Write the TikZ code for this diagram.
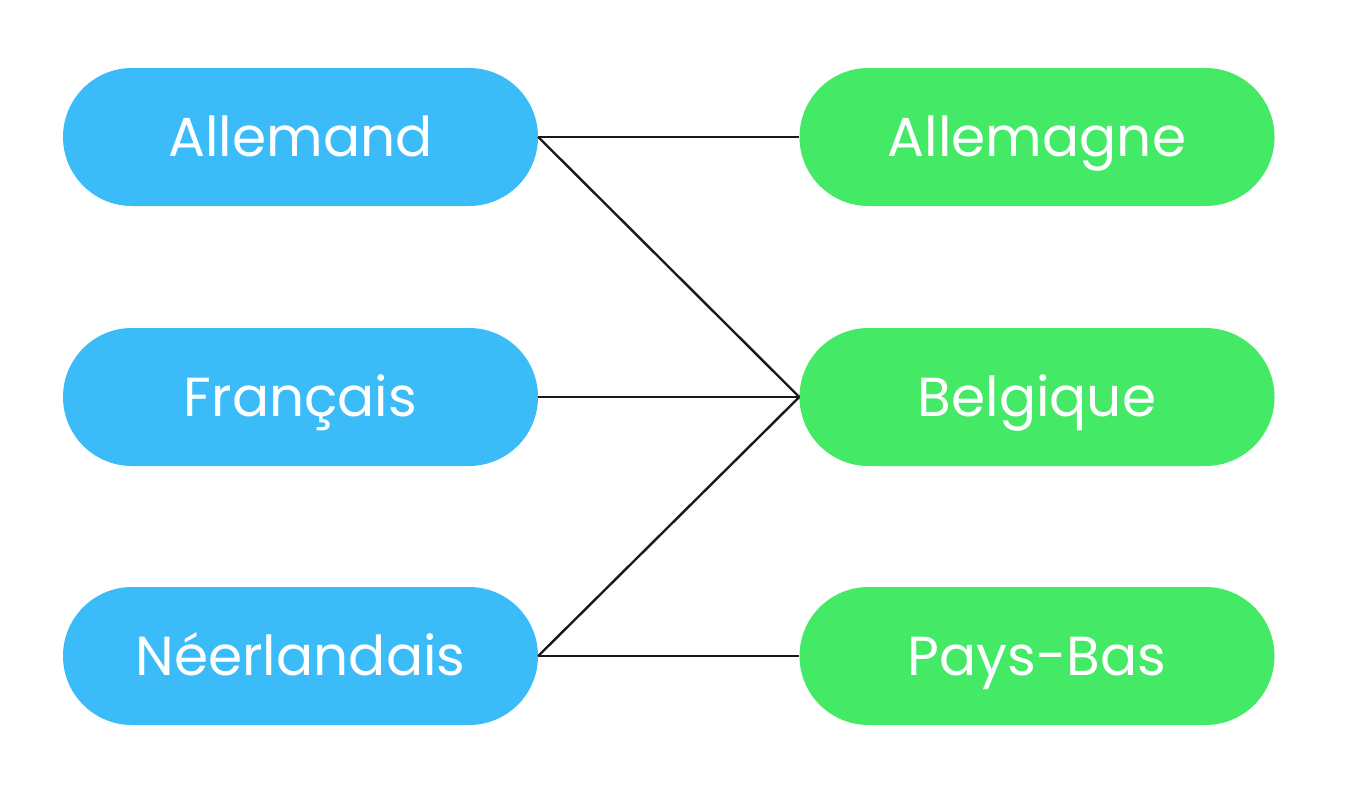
\documentclass[tikz,border=0pt]{standalone}
\usepackage{fontspec}
\setmainfont{Poppins}
\definecolor{langblue}{HTML}{3BBCF8}
\definecolor{landgreen}{HTML}{44EA66}
\begin{document}
\begin{tikzpicture}[x=1pt,y=-1pt,
  pill/.style={rectangle,rounded corners=69pt,minimum width=475pt,minimum height=138pt,inner sep=0pt,text height=39pt,text depth=0pt,text=white,font=\fontsize{55}{60}\selectfont},
  lang/.style={pill,fill=langblue},
  land/.style={pill,fill=landgreen},
  link/.style={draw=black!90,line width=2.4pt}]
\useasboundingbox[fill=white] (0,0) rectangle (1364,784);
\node[lang] (de) at (300.5,137) {Allemand};
\node[lang] (fr) at (300.5,397) {Français};
\node[lang] (nl) at (300.5,656) {Néerlandais};
\node[land] (ger) at (1037,137) {Allemagne};
\node[land] (bel) at (1037,397) {Belgique};
\node[land] (pb) at (1037,656) {Pays-Bas};
\draw[link] (de.east) -- (ger.west);
\draw[link] (de.east) -- (bel.west);
\draw[link] (fr.east) -- (bel.west);
\draw[link] (nl.east) -- (bel.west);
\draw[link] (nl.east) -- (pb.west);
\end{tikzpicture}
\end{document}
